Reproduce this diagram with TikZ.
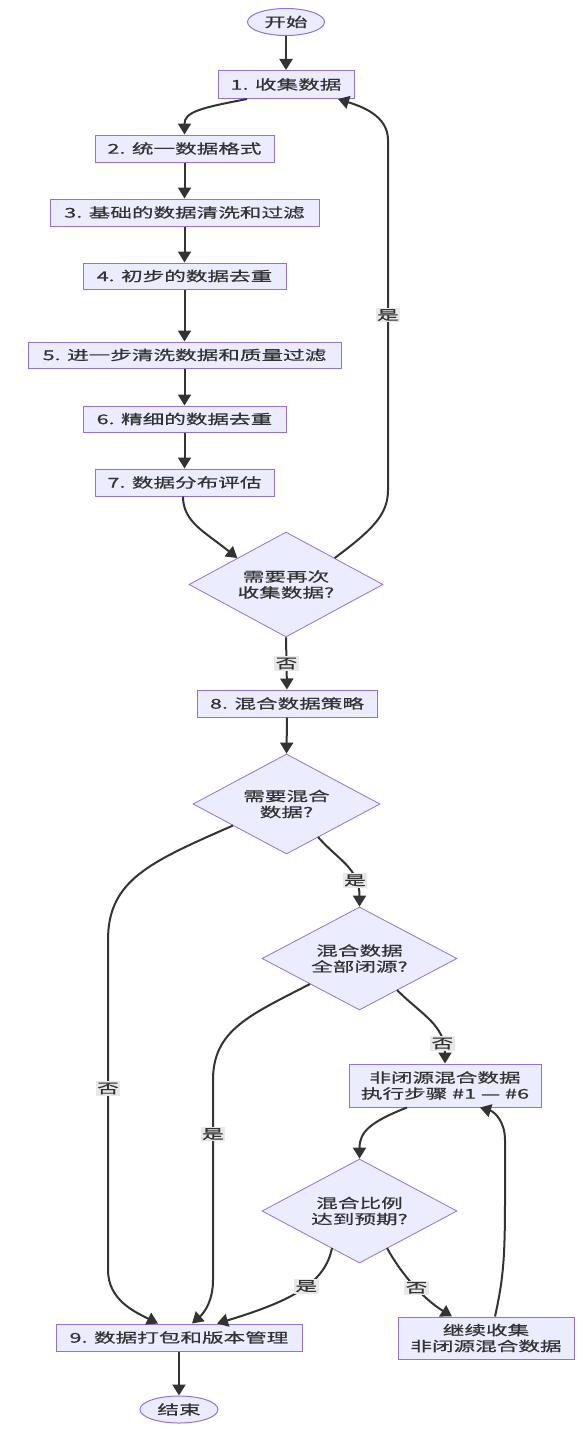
\documentclass[tikz,border=0pt]{standalone}
\usepackage{fontspec}
\setmainfont{Noto Sans CJK SC}[FakeStretch=1.6,FakeBold=0.6]
\usetikzlibrary{shapes.geometric,arrows.meta,calc}
\definecolor{nodefill}{HTML}{ECECFF}
\definecolor{nodeline}{HTML}{9370DB}
\definecolor{edgec}{HTML}{333333}
\definecolor{lblbg}{HTML}{E8E8E8}
\begin{document}
\begin{tikzpicture}[x=1pt,y=-1pt,
  every node/.style={font=\fontsize{13.5}{16}\selectfont, text=edgec},
  box/.style={draw=nodeline, fill=nodefill, line width=1pt, rectangle, inner sep=0pt, align=center},
  term/.style={draw=nodeline, fill=nodefill, line width=1pt, ellipse, inner sep=0pt},
  dec/.style={draw=nodeline, fill=nodefill, line width=0.8pt, diamond, aspect=1.85, inner sep=0pt, align=center},
  arr/.style={draw=edgec, line width=2pt, -{Triangle[length=11pt,width=13pt]}},
  lbl/.style={fill=lblbg, inner sep=1.5pt}
]
\useasboundingbox (0,0) rectangle (584,1429);
\fill[white] (0,0) rectangle (584,1429);

\node[term, minimum width=77pt, minimum height=27pt] (start) at (286,22) {开始};
\node[box, minimum width=136pt, minimum height=28pt] (s1) at (286,84.5) {1. 收集数据};
\node[box, minimum width=179pt, minimum height=27pt] (s2) at (184.5,148.5) {2. 统一数据格式};
\node[box, minimum width=269pt, minimum height=27pt] (s3) at (184.5,212.5) {3. 基础的数据清洗和过滤};
\node[box, minimum width=203pt, minimum height=26pt] (s4) at (184.5,276) {4. 初步的数据去重};
\node[box, minimum width=313pt, minimum height=26pt] (s5) at (184.5,355) {5. 进一步清洗数据和质量过滤};
\node[box, minimum width=203pt, minimum height=26pt] (s6) at (184.5,419) {6. 精细的数据去重};
\node[box, minimum width=179pt, minimum height=27pt] (s7) at (184.5,482.5) {7. 数据分布评估};
\node[dec, minimum width=194pt, minimum height=105pt] (d1) at (286,584.5) {需要再次\\收集数据?};
\node[box, minimum width=180pt, minimum height=27pt] (s8) at (287,703.5) {8. 混合数据策略};
\node[dec, minimum width=187pt, minimum height=100pt] (d2) at (286.5,804) {需要混合\\数据?};
\node[dec, minimum width=195pt, minimum height=103pt] (d3) at (359.5,958.5) {混合数据\\全部闭源?};
\node[box, minimum width=192pt, minimum height=43pt] (nc) at (445,1085.5) {非闭源混合数据\\执行步骤 \#1 — \#6};
\node[dec, minimum width=195pt, minimum height=104pt] (d4) at (359.5,1211) {混合比例\\达到预期?};
\node[box, minimum width=246pt, minimum height=27pt] (s9) at (179,1337.5) {9. 数据打包和版本管理};
\node[box, minimum width=176pt, minimum height=42pt] (cont) at (486,1338) {继续收集\\非闭源混合数据};
\node[term, minimum width=78pt, minimum height=27pt] (end) at (179,1409.5) {结束};

% main chain
\draw[arr] (start.south) -- (s1.north);
\draw[arr] ($(s1.south)+(-39,0)$) .. controls (200,108) and (184.5,112) .. (s2.north);
\draw[arr] (s2.south) -- (s3.north);
\draw[arr] (s3.south) -- (s4.north);
\draw[arr] (s4.south) -- (s5.north);
\draw[arr] (s5.south) -- (s6.north);
\draw[arr] (s6.south) -- (s7.north);
\draw[arr] ($(s7.south)+(-1.5,0)$) .. controls (183,522) and (205,532) .. (d1.north west);
% loop back
\draw[arr] (d1.north east) .. controls (372,530) and (388,515) .. (388,490)
  -- node[lbl]{是} (388,140) .. controls (388,115) and (360,106) .. ($(s1.south)+(52,0)$);
\draw[arr] (d1.south) -- node[lbl]{否} (s8.north);
\draw[arr] (s8.south) -- (d2.north);
% d2 branches
\draw[arr] (318,837) .. controls (338,860) and (359.5,868) .. node[lbl, pos=0.72]{是} (d3.north);
\draw[arr] (233,825.5) .. controls (150,862) and (108,880) .. (108,940)
  -- node[lbl, pos=0.45]{否} (108,1270) .. controls (108,1300) and (135,1312) .. ($(s9.north)+(-21,0)$);
% d3 branches
\draw[arr] (310,984) .. controls (250,1015) and (213,1030) .. (213,1080)
  -- node[lbl, pos=0.27]{是} (213,1280) .. controls (213,1300) and (205,1312) .. ($(s9.north)+(13,0)$);
\draw[arr] (397,990) .. controls (422,1015) and (445,1025) .. node[lbl, pos=0.8]{否} (nc.north);
% nc to d4
\draw[arr] ($(nc.south)+(-38,0)$) .. controls (370,1122) and (359.5,1132) .. (d4.north);
% d4 branches
\draw[arr] (332,1248) .. controls (325,1282) and (295,1300) .. node[lbl, pos=0.45]{是} ($(s9.north)+(38,0)$);
\draw[arr] (387,1248) .. controls (400,1272) and (422,1298) .. node[lbl, pos=0.55]{否} ($(cont.north)+(-34,0)$);
% cont back to nc
\draw[arr] ($(cont.north)+(9,0)$) .. controls (503,1280) and (505,1260) .. (505,1200)
  -- (505,1140) .. controls (505,1122) and (495,1112) .. ($(nc.south)+(35,0)$);
% end
\draw[arr] (s9.south) -- (end.north);
\end{tikzpicture}
\end{document}
